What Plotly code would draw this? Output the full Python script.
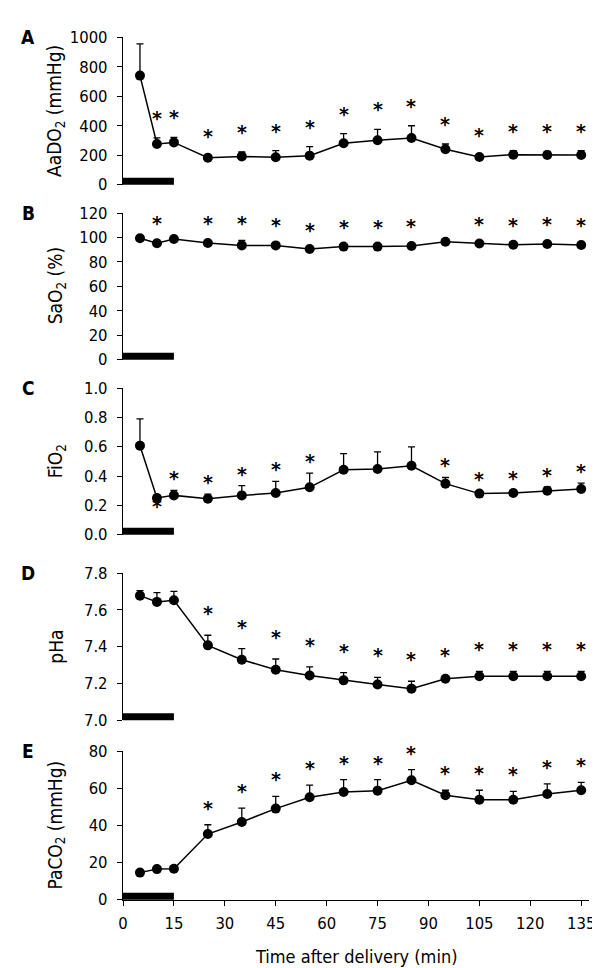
import plotly.graph_objects as go

# ---------------- data ----------------
times = [5, 10, 15, 25, 35, 45, 55, 65, 75, 85, 95, 105, 115, 125, 135]

aado2 = [740, 276, 287, 183, 192, 186, 197, 281, 301, 317, 240, 188, 204, 201, 201]
aado2_sd = [215, 41, 34, 12, 30, 45, 61, 65, 75, 83, 36, 16, 27, 25, 30]
aado2_sig = [0, 1, 1, 1, 1, 1, 1, 1, 1, 1, 1, 1, 1, 1, 1]

sao2 = [99.3, 95.2, 98.7, 95.5, 93.5, 93.5, 90.5, 92.5, 92.5, 93.0, 96.5, 95.0, 94.0, 94.6, 93.8]
sao2_sd = [1.0, 1.5, 1.0, 1.5, 4.0, 2.0, 1.0, 1.5, 1.5, 1.5, 1.0, 1.5, 1.5, 1.5, 1.5]
sao2_sig = [0, 1, 0, 1, 1, 1, 1, 1, 1, 1, 0, 1, 1, 1, 1]

fio2 = [0.607, 0.25, 0.268, 0.245, 0.268, 0.284, 0.323, 0.443, 0.448, 0.47, 0.348, 0.28, 0.284, 0.30, 0.311]
fio2_sd = [0.182, 0.02, 0.034, 0.032, 0.066, 0.08, 0.097, 0.109, 0.116, 0.128, 0.042, 0.015, 0.02, 0.025, 0.041]
fio2_sig = [0, -1, 1, 1, 1, 1, 1, 0, 0, 0, 1, 1, 1, 1, 1]

pha = [7.677, 7.643, 7.652, 7.407, 7.329, 7.275, 7.243, 7.217, 7.194, 7.172, 7.226, 7.239, 7.239, 7.239, 7.239]
pha_sd = [0.027, 0.05, 0.048, 0.055, 0.06, 0.058, 0.047, 0.042, 0.039, 0.04, 0.009, 0.027, 0.027, 0.027, 0.027]
pha_sig = [0, 0, 0, 1, 1, 1, 1, 1, 1, 1, 1, 1, 1, 1, 1]

paco2 = [14.6, 16.5, 16.7, 35.4, 41.9, 49.1, 55.2, 58.1, 58.8, 64.4, 56.3, 53.9, 53.9, 57.0, 59.0]
paco2_sd = [0.8, 1.0, 1.2, 5.0, 7.5, 6.6, 6.6, 6.6, 5.9, 5.7, 2.7, 5.1, 4.5, 5.4, 4.3]
paco2_sig = [0, 0, 0, 1, 1, 1, 1, 1, 1, 1, 1, 1, 1, 1, 1]

panel_letters = ["A", "B", "C", "D", "E"]
y_titles = ["AaDO<sub>2</sub> (mmHg)", "SaO<sub>2</sub> (%)", "FiO<sub>2</sub>", "pHa", "PaCO<sub>2</sub> (mmHg)"]
y_ranges = [[0, 1000], [0, 120], [0, 1.0], [7.0, 7.8], [0, 80]]
y_dticks = [200, 20, 0.2, 0.2, 20]
y_formats = ["d", "d", ".1f", ".1f", "d"]
x_ticks = [0, 15, 30, 45, 60, 75, 90, 105, 120, 135]
x_title = "Time after delivery (min)"
bar_start, bar_end = 0, 15

series = [
    (aado2, aado2_sd, aado2_sig),
    (sao2, sao2_sd, sao2_sig),
    (fio2, fio2_sd, fio2_sig),
    (pha, pha_sd, pha_sig),
    (paco2, paco2_sd, paco2_sig),
]

# ---------------- layout geometry ----------------
W, H = 600, 968
ML, MR = 115, 19
PW = W - ML - MR
panel_px = [(29.3, 176.7), (205.0, 351.7), (380.0, 526.7), (565.0, 712.3), (743.3, 891.7)]
star_gap = [17, 15, 9, 19, 14]

FONT = "Tahoma, 'DejaVu Sans Condensed', 'DejaVu Sans', sans-serif"
STAR_FONT = "'DejaVu Sans', sans-serif"

fig = go.Figure()
annotations = []
shapes = []

for i, ((vals, sd, sig), (ptop, pbot)) in enumerate(zip(series, panel_px)):
    n = i + 1
    xa = "x" if n == 1 else f"x{n}"
    ya = "y" if n == 1 else f"y{n}"
    fig.add_trace(go.Scatter(
        x=times, y=vals, xaxis=xa, yaxis=ya,
        mode="lines+markers",
        line=dict(color="black", width=1.5),
        marker=dict(color="black", size=10),
        error_y=dict(type="data", array=sd, arrayminus=[0] * len(sd), symmetric=False,
                     color="black", thickness=1.3, width=3.5),
        cliponaxis=False, showlegend=False, hoverinfo="skip",
    ))
    dom = [1 - pbot / H, 1 - ptop / H]
    last = (n == 5)
    fig.layout[("xaxis" if n == 1 else f"xaxis{n}")] = dict(
        domain=[0, 1], anchor=ya, range=[0, 137.3],
        showline=last, linecolor="black", linewidth=1.3,
        ticks="outside" if last else "", ticklen=5, tickcolor="black", tickwidth=1.3,
        tickvals=x_ticks, showticklabels=last,
        tickfont=dict(family=FONT, size=16.5, color="black"),
        ticklabelstandoff=3,
        showgrid=False, zeroline=False, fixedrange=True,
    )
    fig.layout[("yaxis" if n == 1 else f"yaxis{n}")] = dict(
        domain=dom, anchor=xa, range=y_ranges[i],
        showline=True, linecolor="black", linewidth=1.3,
        ticks="outside", ticklen=5, tickcolor="black", tickwidth=1.3,
        dtick=y_dticks[i], tick0=y_ranges[i][0], tickformat=y_formats[i],
        tickfont=dict(family=FONT, size=16.5, color="black"),
        ticklabelstandoff=6,
        showgrid=False, zeroline=False, fixedrange=True,
    )
    shapes.append(dict(
        type="rect", xref=xa, yref=ya, x0=bar_start, x1=bar_end,
        ysizemode="pixel", yanchor=y_ranges[i][0], y0=-1, y1=7,
        fillcolor="black", line=dict(width=0),
    ))
    for t, v, e, s in zip(times, vals, sd, sig):
        if s == 0:
            continue
        if s > 0:
            annotations.append(dict(x=t, y=v + e, xref=xa, yref=ya, text="<b>*</b>", showarrow=False,
                                    yanchor="middle", yshift=star_gap[i] + 3,
                                    font=dict(family=STAR_FONT, size=19, color="#000000")))
        else:
            annotations.append(dict(x=t, y=v, xref=xa, yref=ya, text="<b>*</b>", showarrow=False,
                                    yanchor="middle", yshift=-8,
                                    font=dict(family=STAR_FONT, size=19, color="#000000")))
    annotations.append(dict(x=(48 - ML) / PW, y=(dom[0] + dom[1]) / 2, xref="paper", yref="paper",
                            text=y_titles[i], textangle=-90, showarrow=False,
                            xanchor="center", yanchor="middle",
                            font=dict(family=FONT, size=19, color="black")))
    annotations.append(dict(x=(20 - ML) / PW, y=dom[1], xref="paper", yref="paper",
                            text=f"<b>{panel_letters[i]}</b>", showarrow=False,
                            xanchor="center", yanchor="middle",
                            font=dict(family=FONT, size=19, color="black")))

annotations.append(dict(x=0.5, y=1 - 948 / H, xref="paper", yref="paper", text=x_title,
                        showarrow=False, xanchor="center", yanchor="middle",
                        font=dict(family=FONT, size=18, color="black")))

fig.update_layout(
    width=W, height=H,
    margin=dict(l=ML, r=MR, t=0, b=0, autoexpand=False),
    paper_bgcolor="white", plot_bgcolor="white",
    annotations=annotations, shapes=shapes,
    font=dict(family=FONT, color="black"),
)

fig.write_html("out.html")
